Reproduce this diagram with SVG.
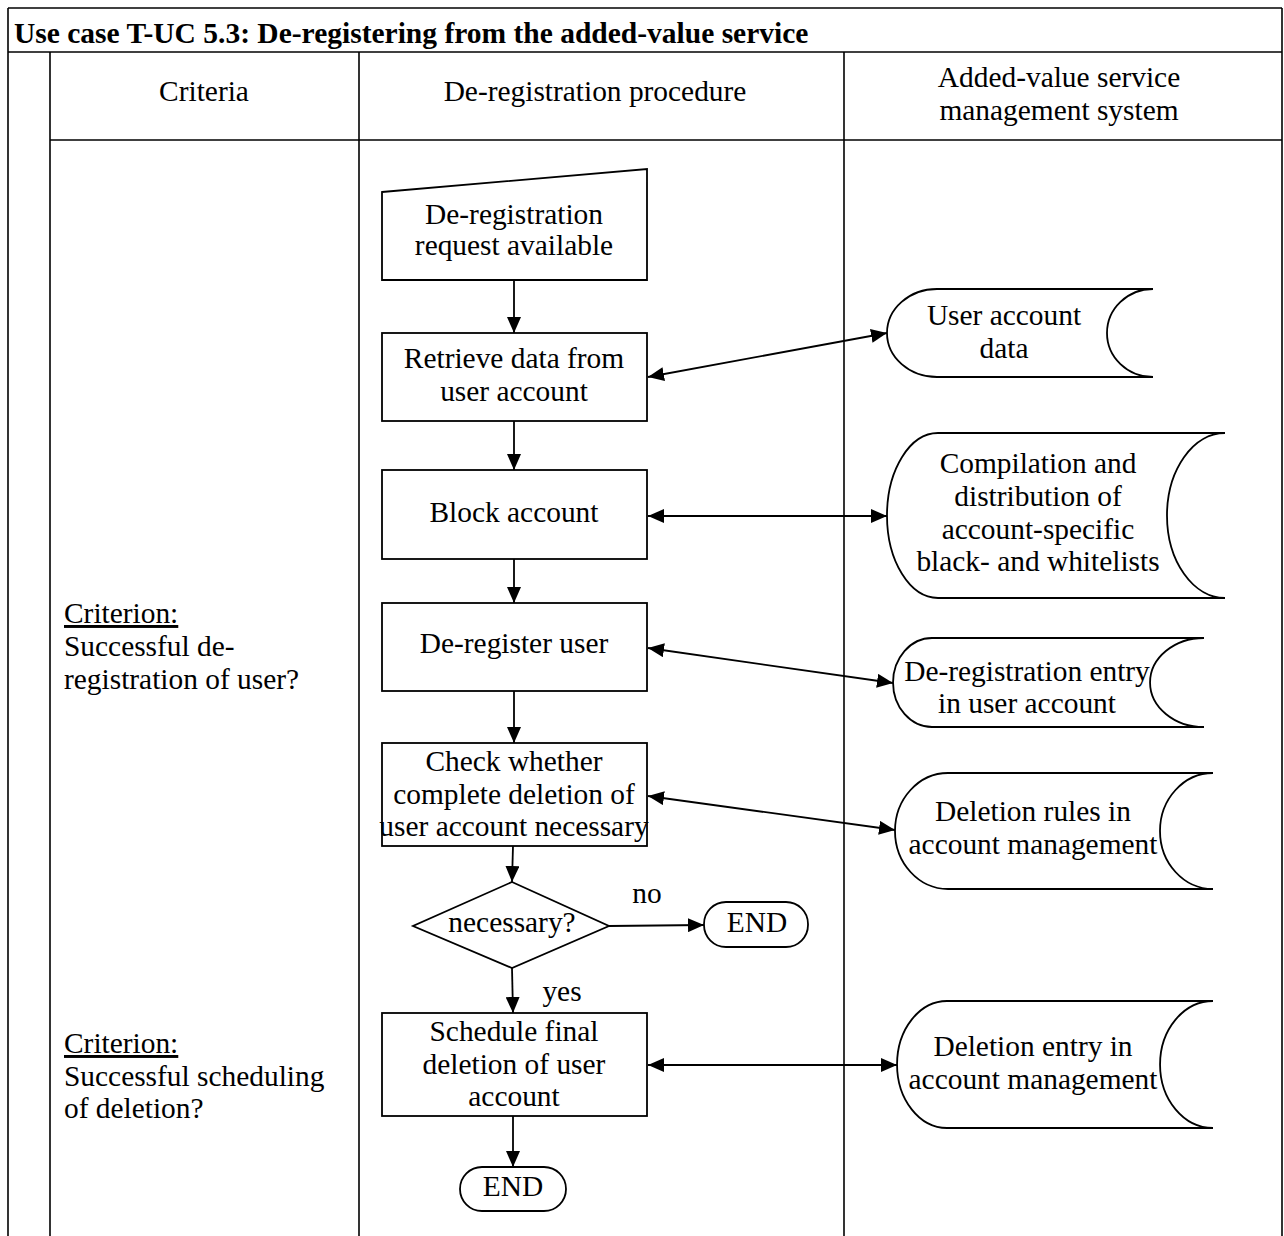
<svg xmlns="http://www.w3.org/2000/svg" width="1284" height="1236" viewBox="0 0 1284 1236">
  <style>
    text { font-family: "Liberation Serif", "Times New Roman", serif; font-size: 29.4px; fill: #000; }
    .c { text-anchor: middle; }
    .title { font-weight: bold; font-size: 29.5px; }
    .grid { stroke: #000; stroke-width: 1.6; fill: none; }
    .shape { stroke: #000; stroke-width: 1.8; fill: #fff; }
    .flow { stroke: #000; stroke-width: 1.8; fill: none; }
  </style>
  <defs>
    <marker id="arrow" markerUnits="userSpaceOnUse" markerWidth="16" markerHeight="14" refX="16" refY="7" orient="auto-start-reverse">
      <path d="M0,0 L16,7 L0,14 Z" fill="#000"/>
    </marker>
  </defs>

  <rect width="1284" height="1236" fill="#fff"/>

  <!-- table frame -->
  <g id="table" class="grid">
    <line x1="8" y1="8" x2="1282" y2="8"/>
    <line x1="8" y1="52" x2="1282" y2="52"/>
    <line x1="50" y1="140" x2="1282" y2="140"/>
    <line x1="8" y1="8" x2="8" y2="1236"/>
    <line x1="50" y1="52" x2="50" y2="1236"/>
    <line x1="359" y1="52" x2="359" y2="1236"/>
    <line x1="844" y1="52" x2="844" y2="1236"/>
    <line x1="1282" y1="8" x2="1282" y2="1236"/>
  </g>

  <g id="headers">
    <text class="title" x="14" y="43">Use case T-UC 5.3: De-registering from the added-value service</text>
    <text class="c" x="204" y="101">Criteria</text>
    <text class="c" x="595" y="101">De-registration procedure</text>
    <text class="c" x="1059" y="87">Added-value service</text>
    <text class="c" x="1059" y="120">management system</text>
  </g>

  <g id="criterion-deregistration">
    <text x="64" y="623" text-decoration="underline">Criterion:</text>
    <text x="64" y="656">Successful de-</text>
    <text x="64" y="689">registration of user?</text>
  </g>
  <g id="criterion-scheduling">
    <text x="64" y="1053" text-decoration="underline">Criterion:</text>
    <text x="64" y="1086">Successful scheduling</text>
    <text x="64" y="1118">of deletion?</text>
  </g>

  <!-- connectors -->
  <g id="connectors" class="flow">
    <line x1="514" y1="280" x2="514" y2="333" marker-end="url(#arrow)"/>
    <line x1="514" y1="421" x2="514" y2="470" marker-end="url(#arrow)"/>
    <line x1="514" y1="559" x2="514" y2="603" marker-end="url(#arrow)"/>
    <line x1="514" y1="691" x2="514" y2="743" marker-end="url(#arrow)"/>
    <line x1="513" y1="846" x2="512" y2="882" marker-end="url(#arrow)"/>
    <line x1="512" y1="968" x2="513" y2="1013" marker-end="url(#arrow)"/>
    <line x1="513" y1="1116" x2="513" y2="1167" marker-end="url(#arrow)"/>
    <line x1="609" y1="926" x2="704" y2="925" marker-end="url(#arrow)"/>
    <line x1="648" y1="377" x2="887" y2="333" marker-start="url(#arrow)" marker-end="url(#arrow)"/>
    <line x1="648" y1="516" x2="887" y2="516" marker-start="url(#arrow)" marker-end="url(#arrow)"/>
    <line x1="648" y1="648" x2="893" y2="683" marker-start="url(#arrow)" marker-end="url(#arrow)"/>
    <line x1="648" y1="796" x2="895" y2="830" marker-start="url(#arrow)" marker-end="url(#arrow)"/>
    <line x1="648" y1="1065" x2="897" y2="1065" marker-start="url(#arrow)" marker-end="url(#arrow)"/>
  </g>

  <!-- procedure column -->
  <g id="request-available">
    <path class="shape" d="M382,192 L647,169 L647,280 L382,280 Z"/>
    <text class="c" x="514" y="224">De-registration</text>
    <text class="c" x="514" y="255">request available</text>
  </g>
  <g id="retrieve-data">
    <rect class="shape" x="382" y="333" width="265" height="88"/>
    <text class="c" x="514" y="368">Retrieve data from</text>
    <text class="c" x="514" y="401">user account</text>
  </g>
  <g id="block-account">
    <rect class="shape" x="382" y="470" width="265" height="89"/>
    <text class="c" x="514" y="522">Block account</text>
  </g>
  <g id="deregister-user">
    <rect class="shape" x="382" y="603" width="265" height="88"/>
    <text class="c" x="514" y="653">De-register user</text>
  </g>
  <g id="check-deletion">
    <rect class="shape" x="382" y="743" width="265" height="103"/>
    <text class="c" x="514" y="771">Check whether</text>
    <text class="c" x="514" y="804">complete deletion of</text>
    <text class="c" x="514" y="836">user account necessary</text>
  </g>
  <g id="decision-necessary">
    <path class="shape" d="M512,882 L609,926 L512,968 L413,926 Z"/>
    <text class="c" x="512" y="932">necessary?</text>
    <text class="c" x="647" y="903">no</text>
    <text class="c" x="562" y="1001">yes</text>
  </g>
  <g id="end-no">
    <rect class="shape" x="704" y="902" width="104" height="45" rx="22" ry="22"/>
    <text class="c" x="757" y="932">END</text>
  </g>
  <g id="schedule-deletion">
    <rect class="shape" x="382" y="1013" width="265" height="103"/>
    <text class="c" x="514" y="1041">Schedule final</text>
    <text class="c" x="514" y="1074">deletion of user</text>
    <text class="c" x="514" y="1106">account</text>
  </g>
  <g id="end-final">
    <rect class="shape" x="460" y="1167" width="106" height="44" rx="22" ry="22"/>
    <text class="c" x="513" y="1196">END</text>
  </g>

  <!-- stored data in the management system -->
  <g id="user-account-data">
    <path class="shape" d="M937,289 L1153,289 A46,44 0 0 0 1153,377 L937,377 A50,44 0 0 1 937,289 Z"/>
    <text class="c" x="1004" y="325">User account</text>
    <text class="c" x="1004" y="358">data</text>
  </g>
  <g id="black-whitelists">
    <path class="shape" d="M938,433 L1225,433 A58,82.5 0 0 0 1225,598 L938,598 A51,82.5 0 0 1 938,433 Z"/>
    <text class="c" x="1038" y="473">Compilation and</text>
    <text class="c" x="1038" y="506">distribution of</text>
    <text class="c" x="1038" y="539">account-specific</text>
    <text class="c" x="1038" y="571">black- and whitelists</text>
  </g>
  <g id="deregistration-entry">
    <path class="shape" d="M932,638 L1204,638 A54,44.5 0 0 0 1204,727 L932,727 A39,44.5 0 0 1 932,638 Z"/>
    <text class="c" x="1027" y="681">De-registration entry</text>
    <text class="c" x="1027" y="713">in user account</text>
  </g>
  <g id="deletion-rules">
    <path class="shape" d="M948,773 L1213,773 A53,58 0 0 0 1213,889 L948,889 A53,58 0 0 1 948,773 Z"/>
    <text class="c" x="1033" y="821">Deletion rules in</text>
    <text class="c" x="1033" y="854">account management</text>
  </g>
  <g id="deletion-entry">
    <path class="shape" d="M947,1001 L1213,1001 A53,63.5 0 0 0 1213,1128 L947,1128 A50,63.5 0 0 1 947,1001 Z"/>
    <text class="c" x="1033" y="1056">Deletion entry in</text>
    <text class="c" x="1033" y="1089">account management</text>
  </g>
</svg>
